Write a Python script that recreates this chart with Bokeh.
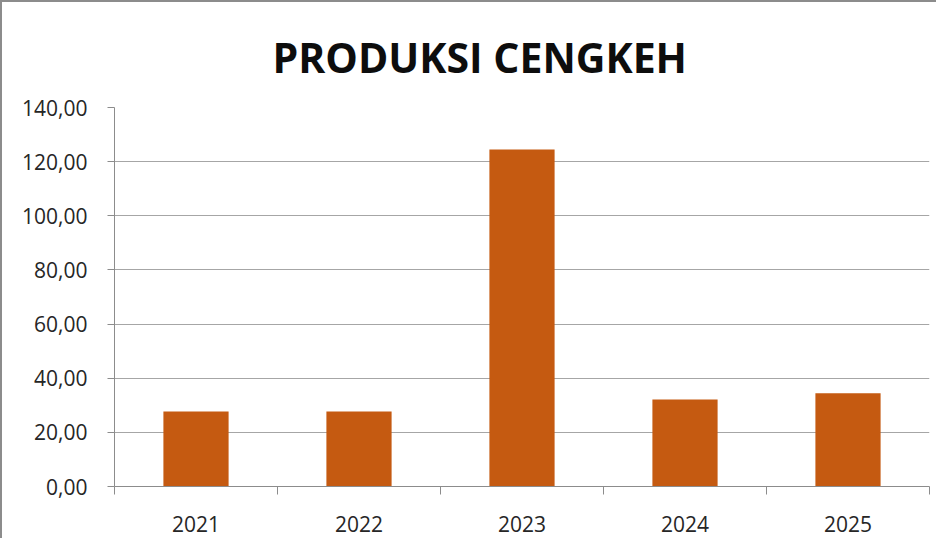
from bokeh.plotting import figure
from bokeh.models import Range1d, FixedTicker, CustomJSTickFormatter, ColumnDataSource
from bokeh.embed import file_html
from bokeh.resources import INLINE

years = ["2021", "2022", "2023", "2024", "2025"]
produksi = [27.7, 27.7, 124.5, 32.1, 34.4]
y_ticks = [0, 20, 40, 60, 80, 100, 120, 140]

xpos = [i + 0.5 for i in range(len(years))]
src = ColumnDataSource(dict(x=xpos, top=produksi, year=years))

p = figure(width=936, height=538, output_backend="svg", toolbar_location=None,
           x_range=Range1d(0, len(years)), y_range=Range1d(0, 140),
           min_border_left=112, min_border_right=9, min_border_top=105, min_border_bottom=54)
p.styles = {"border-left": "2px solid #8c8c8c", "border-top": "2px solid #8c8c8c"}

p.title.text = "PRODUKSI CENGKEH"
p.title.text_font = "Open Sans"
p.title.text_font_style = "bold"
p.title.text_font_size = "41px"
p.title.text_color = "#0d0d0d"
p.title.align = "left"
p.title.offset = 158
p.title.standoff = 46

p.vbar(x="x", top="top", width=0.4, source=src, fill_color="#C55A11", line_color=None)

p.outline_line_color = None
p.background_fill_color = "white"
p.border_fill_color = "white"

# y axis
p.yaxis.ticker = FixedTicker(ticks=y_ticks)
p.yaxis.formatter = CustomJSTickFormatter(code="return tick.toFixed(2).replace('.', ',');")
p.yaxis.axis_line_color = "#8c8c8c"
p.yaxis.major_tick_line_color = "#8c8c8c"
p.yaxis.major_tick_out = 7
p.yaxis.major_tick_in = 0
p.yaxis.minor_tick_line_color = None
p.yaxis.major_label_standoff = 20
p.yaxis.major_label_text_font = "Open Sans"
p.yaxis.major_label_text_font_size = "21px"
p.yaxis.major_label_text_color = "#262626"

# x axis
overrides = {x: y for x, y in zip(xpos, years)}
p.xaxis.ticker = FixedTicker(ticks=xpos, minor_ticks=list(range(len(years) + 1)))
p.xaxis.major_label_overrides = overrides
p.xaxis.axis_line_color = "#8c8c8c"
p.xaxis.major_tick_line_color = None
p.xaxis.minor_tick_line_color = "#8c8c8c"
p.xaxis.minor_tick_out = 8
p.xaxis.minor_tick_in = 0
p.xaxis.major_label_standoff = 21
p.xaxis.major_label_text_font = "Open Sans"
p.xaxis.major_label_text_font_size = "21px"
p.xaxis.major_label_text_color = "#262626"

p.xgrid.grid_line_color = None
p.ygrid.grid_line_color = "#a6a6a6"
p.ygrid.grid_line_width = 1

open("out.html", "w").write(file_html(p, INLINE))
